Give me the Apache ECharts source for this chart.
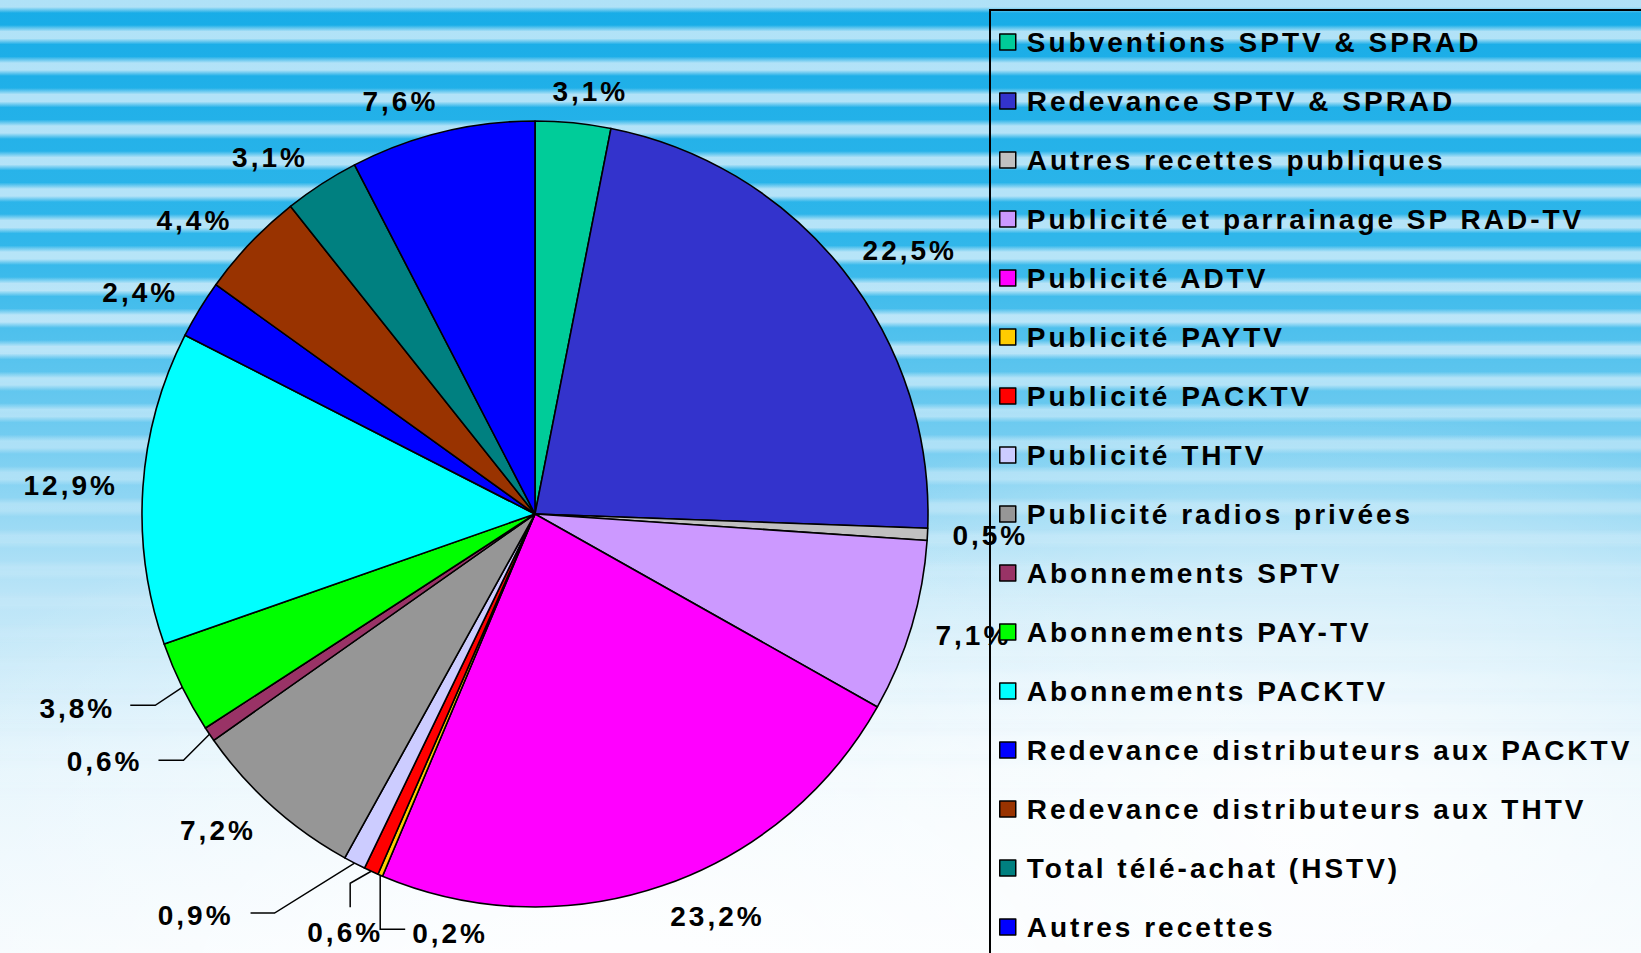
<!DOCTYPE html>
<html>
<head>
<meta charset="utf-8">
<script src="https://cdn.jsdelivr.net/npm/echarts@6/dist/echarts.min.js"></script>
<style>
html, body { margin: 0; padding: 0; }
#wrap {
  position: relative;
  width: 1641px; height: 953px; overflow: hidden;
  background:
    radial-gradient(ellipse 900px 520px at 620px 1000px, rgba(255,255,255,0.95), rgba(255,255,255,0) 100%),
    radial-gradient(ellipse 700px 420px at 1300px 820px, rgba(255,255,255,0.9), rgba(255,255,255,0) 100%),
    linear-gradient(to bottom, #17ace7 0%, #2fb6ea 25%, #6fcbf0 45%, #b9e4f7 62%, #e3f4fc 80%, #f4fafe 100%);
}
#stripes {
  position: absolute; left: 0; top: 0; width: 100%; height: 100%;
  background: repeating-linear-gradient(to bottom,
    rgba(215,239,251,0.8) 0px, rgba(215,239,251,0.8) 7px,
    rgba(255,255,255,0) 13px, rgba(255,255,255,0) 25px,
    rgba(215,239,251,0.8) 31.5px);
  -webkit-mask-image: linear-gradient(to bottom, #000 0%, #000 35%, rgba(0,0,0,0.25) 65%, rgba(0,0,0,0) 85%);
  mask-image: linear-gradient(to bottom, #000 0%, #000 35%, rgba(0,0,0,0.25) 65%, rgba(0,0,0,0) 85%);
}
#main { position: absolute; left: 0; top: 0; width: 1641px; height: 953px; }
#main svg text { letter-spacing: 3px; }
</style>
</head>
<body>
<div id="wrap">
  <div id="stripes"></div>
  <div id="main"></div>
</div>
<script>
// postes de recettes (ordre de la légende)
var categories = [
  'Subventions SPTV & SPRAD',
  'Redevance SPTV & SPRAD',
  'Autres recettes publiques',
  'Publicité et parrainage SP RAD-TV',
  'Publicité ADTV',
  'Publicité PAYTV',
  'Publicité PACKTV',
  'Publicité THTV',
  'Publicité radios privées',
  'Abonnements SPTV',
  'Abonnements PAY-TV',
  'Abonnements PACKTV',
  'Redevance distributeurs aux PACKTV',
  'Redevance distributeurs aux THTV',
  'Total télé-achat (HSTV)',
  'Autres recettes'
];
// parts en %
var values = [3.1, 22.5, 0.5, 7.1, 23.2, 0.2, 0.6, 0.9, 7.2, 0.6, 3.8, 12.9, 2.4, 4.4, 3.1, 7.6];
var colors = ['#00CC99', '#3333CC', '#C0C0C0', '#CC99FF', '#FF00FF', '#FFCC00', '#FF0000', '#CCCCFF',
              '#969696', '#993366', '#00FF00', '#00FFFF', '#0000FF', '#993300', '#008080', '#0000FF'];

// traits de rappel des petites parts : coude, fin, texte (décalages depuis le bord du secteur)
var leaders = {
  'Abonnements PAY-TV': { elbow: [-27, 18], end: [-25, 0], text: [-15, 3], align: 'right' },
  'Abonnements SPTV':   { elbow: [-26, 26], end: [-25, 0], text: [-16, 1], align: 'right' },
  'Publicité THTV':     { elbow: [-80, 50], end: [-24, 0], text: [-17, 2], align: 'right' },
  'Publicité PACKTV':   { elbow: [-21, 12], end: [0, 24], text: [-5, 25], align: 'center' },
  'Publicité PAYTV':    { elbow: [0, 54], end: [25, 0], text: [7, 4], align: 'left' }
};

var font = '"Liberation Sans", Arial, Helvetica, sans-serif';
var cx = 535, cy = 514, R = 393, gapX = 25, gapY = 32, spacing = 3;

// angle milieu de chaque secteur (sens horaire depuis midi)
var total = 0;
for (var k = 0; k < values.length; k++) total += values[k];
var midAngles = [];
var acc = 0;
for (var k = 0; k < values.length; k++) {
  midAngles.push((acc + values[k] / 2) / total * Math.PI * 2);
  acc += values[k];
}

var pieData = [];
for (var i = 0; i < categories.length; i++) {
  var item = {
    name: categories[i],
    value: values[i],
    itemStyle: { color: colors[i] }
  };
  if (leaders[categories[i]]) {
    item.labelLine = { show: true };
  }
  pieData.push(item);
}

function fmt(v) {
  return v.toFixed(1).replace('.', ',') + '%';
}

var myChart = echarts.init(document.getElementById('main'), null, { renderer: 'svg' });
var option = {
  animation: false,
  graphic: [{
    type: 'rect',
    shape: { x: 990, y: 10, width: 700, height: 1000 },
    style: { fill: 'none', stroke: '#000', lineWidth: 2 },
    z: 0
  }],
  legend: {
    orient: 'vertical',
    left: 999,
    top: 27,
    padding: 0,
    itemGap: 29,
    itemWidth: 16,
    itemHeight: 16,
    icon: 'rect',
    itemStyle: { borderColor: '#000', borderWidth: 1.5 },
    textStyle: {
      color: '#000', fontSize: 28, fontWeight: 'bold', fontFamily: font,
      lineHeight: 30, padding: [0, 0, 0, 6]
    },
    data: categories
  },
  series: [{
    type: 'pie',
    center: [cx, cy],
    radius: [0, R],
    startAngle: 90,
    clockwise: true,
    avoidLabelOverlap: false,
    itemStyle: { borderColor: '#000', borderWidth: 1.6 },
    label: {
      show: true,
      position: 'outside',
      color: '#000',
      fontSize: 28,
      fontWeight: 'bold',
      fontFamily: font,
      formatter: function (p) {
        return fmt(p.value);
      }
    },
    labelLine: {
      show: false,
      length: 20,
      length2: 20,
      lineStyle: { color: '#000', width: 1.5 }
    },
    labelLayout: function (params) {
      var i = params.dataIndex;
      var a = midAngles[i];
      var sx = Math.sin(a), sy = -Math.cos(a);
      var ex = cx + sx * R, ey = cy + sy * R;
      var w = params.labelRect.width + fmt(values[i]).length * spacing;
      var lead = leaders[categories[i]];
      if (!lead) {
        // étiquette posée à l'extérieur, décalée horizontalement de sa demi-largeur
        var side = Math.max(-1, Math.min(1, sx * 4));
        return {
          x: cx + sx * (R + gapX) + side * w / 2,
          y: cy + sy * (R + gapY),
          align: 'center',
          verticalAlign: 'middle'
        };
      }
      var p1 = [ex + lead.elbow[0], ey + lead.elbow[1]];
      var p2 = [p1[0] + lead.end[0], p1[1] + lead.end[1]];
      return {
        x: p2[0] + lead.text[0],
        y: p2[1] + lead.text[1],
        align: lead.align,
        verticalAlign: 'middle',
        labelLinePoints: [[ex, ey], p1, p2]
      };
    },
    emphasis: { disabled: true },
    data: pieData
  }]
};
myChart.setOption(option);
</script>
</body>
</html>
